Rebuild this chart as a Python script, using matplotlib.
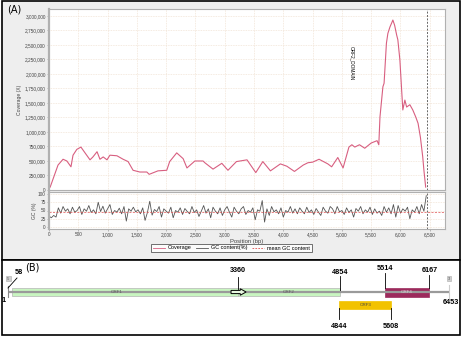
import numpy as np
import matplotlib
matplotlib.use("Agg")
import matplotlib.pyplot as plt
from matplotlib.patches import Rectangle, FancyArrow, FancyBboxPatch
from matplotlib.lines import Line2D
from matplotlib.ticker import FuncFormatter, MultipleLocator

plt.rcParams['font.family'] = ['Liberation Sans', 'DejaVu Sans']

W, H = 462, 337

# ---- data: coverage (position bp, coverage in thousands X)
cov_pos = [20, 154, 240, 305, 375, 410, 475, 545, 615, 700, 750, 820, 870, 925, 990,
           1040, 1160, 1265, 1350, 1435, 1550, 1670, 1710, 1860, 2010, 2060, 2180, 2290,
           2355, 2490, 2630, 2660, 2800, 2950, 3055, 3200, 3380, 3530, 3650, 3780, 3950,
           4060, 4190, 4340, 4420, 4500, 4610, 4760, 4825, 4930, 5020, 5120, 5170, 5220,
           5300, 5390, 5500, 5600, 5630, 5650, 5700, 5720, 5760, 5785, 5820, 5850, 5870,
           5900, 5935, 5955, 5990, 6020, 6040, 6075, 6105, 6160, 6210, 6260, 6300, 6340,
           6380, 6400, 6430]
cov_k = [50, 430, 530, 500, 400, 600, 700, 740, 640, 520, 570, 660, 530, 570, 520,
         600, 590, 530, 490, 340, 310, 310, 270, 330, 340, 490, 640, 540,
         380, 500, 500, 470, 360, 460, 340, 490, 520, 300, 490, 330, 450,
         410, 320, 430, 470, 480, 530, 450, 400, 560, 380, 740, 780, 740,
         780, 720, 810, 850, 780, 1260, 1780, 1840, 2530, 2700, 2810, 2880, 2930,
         2840, 2670, 2590, 2240, 1720, 1380, 1550, 1430, 1470, 1380, 1260, 1150, 910,
         570, 340, 50]

# ---- data: GC content (%) in 40 bp windows
gc_step = 40
gc_values = [33, 28, 35, 30, 58, 42, 62, 48, 55, 40,
             60, 45, 50, 62, 38, 55, 48, 65, 44, 52,
             40, 75, 47, 63, 42, 55, 68, 38, 50, 45,
             57, 40, 62, 18, 55, 48, 60, 46, 52, 40,
             58, 20, 44, 78, 36, 53, 47, 62, 30, 55,
             48, 42, 60, 28, 50, 45, 58, 38, 56, 47,
             40, 62, 44, 52, 32, 48, 65, 42, 55, 28,
             60, 48, 40, 58, 35, 52, 62, 45, 30, 60,
             48, 40, 55, 62, 38, 50, 45, 58, 22, 52,
             48, 80, 15, 55, 35, 62, 46, 52, 40, 58,
             30, 50, 45, 62, 42, 55, 40, 58, 48, 40,
             60, 44, 52, 38, 56, 45, 35, 60, 48, 42,
             62, 55, 40, 62, 46, 50, 38, 58, 44, 52,
             30, 56, 48, 62, 40, 52, 45, 60, 38, 55,
             42, 48, 35, 62, 45, 58, 40, 68, 30, 65,
             42, 55, 48, 60, 25, 52, 45, 62, 40, 68,
             48, 95]
gc_mean = 45
genome_len = 6453
domain_label = "ORF2_DOMAIN"
domain_pos, domain_y = 5170, 2190000

# ---- data: genome map
orf_names = ["ORF1", "ORF2", "ORF3", "ORF4"]
orf_start = [58, 3360, 4844, 5514]
orf_end = [3360, 4854, 5608, 6167]
orf_colors = ["#c8f5c0", "#c8f5c0", "#f2c200", "#9c2a5c"]
orf_text_colors = ["#555555", "#555555", "#444444", "#e8d0dc"]
orf_label_pos = [1595, 4107, 5226, 5840]


def px_rect(l, t, r, b):
    return [l / W, 1 - b / H, (r - l) / W, (b - t) / H]


fig = plt.figure(figsize=(W / 100, H / 100), dpi=100)
fig.patch.set_facecolor("white")

# background panels
bg = fig.add_axes([0, 0, 1, 1])
bg.set_xlim(0, W)
bg.set_ylim(H, 0)
bg.axis("off")
bg.add_patch(Rectangle((2, 1), 458, 259, facecolor="#eeeeee", edgecolor="black", lw=1.2))
bg.add_patch(Rectangle((2, 260), 458, 75, facecolor="white", edgecolor="black", lw=1.2))
bg.text(7, 10, "(A)", fontsize=7, va="center", ha="left", family="DejaVu Sans")

grid_col = "#f1e4d6"
tick_col = "#444444"


def thousands(v, p):
    return "{:,.0f}".format(v)


# coverage plot
ax1 = fig.add_axes(px_rect(49, 9, 445, 190))
ax1.set_facecolor("white")
ax1.plot(cov_pos, np.array(cov_k) * 1000, color="#d85f80", lw=0.8)
ax1.axvline(genome_len, color="#666666", ls=(0, (2, 1.5)), lw=0.7)
ax1.set_xlim(0, 6760)
ax1.set_ylim(0, 3120000)
ax1.xaxis.set_major_locator(MultipleLocator(500))
ax1.yaxis.set_major_locator(MultipleLocator(250000))
ax1.yaxis.set_major_formatter(FuncFormatter(thousands))
ax1.set_xticklabels([])
ax1.tick_params(axis="x", length=0)
ax1.tick_params(axis="y", labelsize=3.4, length=1.5, width=0.4, pad=0.8,
                colors="#888888", labelcolor=tick_col)
ax1.grid(True, color=grid_col, lw=0.6, ls=(0, (1, 1)))
ax1.set_axisbelow(True)
for s in ax1.spines.values():
    s.set_color("#b0b0b0")
    s.set_linewidth(0.8)
ax1.spines["left"].set_linewidth(1.6)
ax1.set_ylabel("Coverage (X)", fontsize=3.6, color=tick_col, labelpad=2)
ax1.text(domain_pos, domain_y, domain_label, rotation=270, fontsize=3.4,
         ha="center", va="center", color="black")

# GC plot
ax2 = fig.add_axes(px_rect(49, 192, 445, 229))
ax2.set_facecolor("white")
gc_pos = np.arange(len(gc_values)) * gc_step
ax2.plot(gc_pos, gc_values, color="#555555", lw=0.6)
ax2.axhline(gc_mean, color="#e05050", ls=(0, (3, 2)), lw=0.5)
ax2.axvline(genome_len, color="#666666", ls=(0, (2, 1.5)), lw=0.7)
ax2.set_xlim(0, 6760)
ax2.set_ylim(-6, 106)
ax2.xaxis.set_major_locator(MultipleLocator(500))
ax2.xaxis.set_major_formatter(FuncFormatter(thousands))
ax2.set_yticks([0, 25, 50, 75, 100])
ax2.tick_params(axis="both", labelsize=3.4, length=1.5, width=0.4, pad=0.8,
                colors="#888888", labelcolor=tick_col)
ax2.grid(True, color=grid_col, lw=0.6, ls=(0, (1, 1)))
ax2.set_axisbelow(True)
for s in ax2.spines.values():
    s.set_color("#b0b0b0")
    s.set_linewidth(0.8)
ax2.spines["left"].set_linewidth(1.6)
ax2.set_ylabel("GC (%)", fontsize=3.6, color=tick_col, labelpad=1)
ax2.set_xlabel("Position (bp)", fontsize=4.2, color=tick_col, labelpad=1)

handles = [Line2D([], [], color="#d85f80", lw=0.6),
           Line2D([], [], color="#555555", lw=0.6),
           Line2D([], [], color="#e05050", lw=0.6, ls=(0, (2, 1.5)))]
leg = fig.legend(handles, ["Coverage", "GC content(%)", "mean GC content"],
                 loc="center", bbox_to_anchor=(231.5 / W, 1 - 248 / H), ncol=3,
                 fontsize=4, frameon=True, fancybox=False, handlelength=2.2,
                 handletextpad=0.5, columnspacing=0.8, borderpad=0.3)
leg.get_frame().set_edgecolor("#333333")
leg.get_frame().set_linewidth(0.6)

# genome map panel
k = 441 / (genome_len - 1)
axb = fig.add_axes(px_rect(2, 260, 460, 335))
axb.set_xlim(1 + (2 - 8) / k, 1 + (460 - 8) / k)
axb.set_ylim(335, 260)
axb.axis("off")

axb.plot([1, genome_len], [292, 292], color="#9a9a9a", lw=1.6, solid_capstyle="butt")
axb.plot([1, 1], [286, 297], color="#888888", lw=0.8)
axb.plot([genome_len, genome_len], [285, 298], color="#cccccc", lw=0.8)

bar_y = {"ORF1": 288, "ORF2": 288, "ORF3": 301, "ORF4": 288}
bar_h = {"ORF1": 7.5, "ORF2": 7.5, "ORF3": 7.5, "ORF4": 8.5}
for name, s, e, c, tc, lp in zip(orf_names, orf_start, orf_end, orf_colors,
                                   orf_text_colors, orf_label_pos):
    y0 = bar_y[name]
    axb.add_patch(Rectangle((s, y0), e - s, bar_h[name], facecolor=c,
                            edgecolor="#b5b5b5" if name in ("ORF1", "ORF2") else c, lw=0.5))
    axb.text(lp, y0 + bar_h[name] / 2, name, fontsize=3.2, color=tc, ha="center", va="center")

axb.add_patch(FancyArrow(3264, 292, 220, 0, width=3.2, head_width=6.5, head_length=85,
                         length_includes_head=True, facecolor="#e8f8e0",
                         edgecolor="black", lw=0.7, zorder=5))

num_kw = dict(fontsize=5.2, fontweight="bold", ha="center", va="center")
# top labels: (position, text y, line top, line bottom)
top_marks = [(3360, 271, 277, 289), (4854, 272, 276, 290),
             (5514, 268, 273, 288), (6167, 271, 275, 288)]
for p, ty, y1, y2 in top_marks:
    axb.plot([p, p], [y1, y2], color="black", lw=0.6)
    axb.text(p, ty, str(p), **num_kw)
for p in [4844, 5608]:
    axb.plot([p, p], [308, 319], color="black", lw=0.6)
    axb.text(p, 326, str(p), **num_kw)

axb.plot([1, 1 + 9 / k], [288, 278], color="black", lw=0.6)
axb.text(1 + 11 / k, 272, "58", **num_kw)
axb.text(1 - 4 / k, 300, "1", **num_kw)
axb.text(genome_len + 2 / k, 303, str(genome_len), **num_kw)

for px in (1, genome_len):
    axb.add_patch(FancyBboxPatch((px - 2.5 / k, 276), 5 / k, 5,
                                 boxstyle="square,pad=0", facecolor="#d0d0d0",
                                 edgecolor="#aaaaaa", lw=0.4))
axb.text(1, 278.5, "5'", fontsize=2.8, ha="center", va="center", color="#555555")
axb.text(genome_len, 278.5, "3'", fontsize=2.8, ha="center", va="center", color="#555555")

bg.text(32, 268, "(B)", fontsize=7, va="center", ha="center", family="DejaVu Sans")

fig.savefig("out.png", dpi=100)
